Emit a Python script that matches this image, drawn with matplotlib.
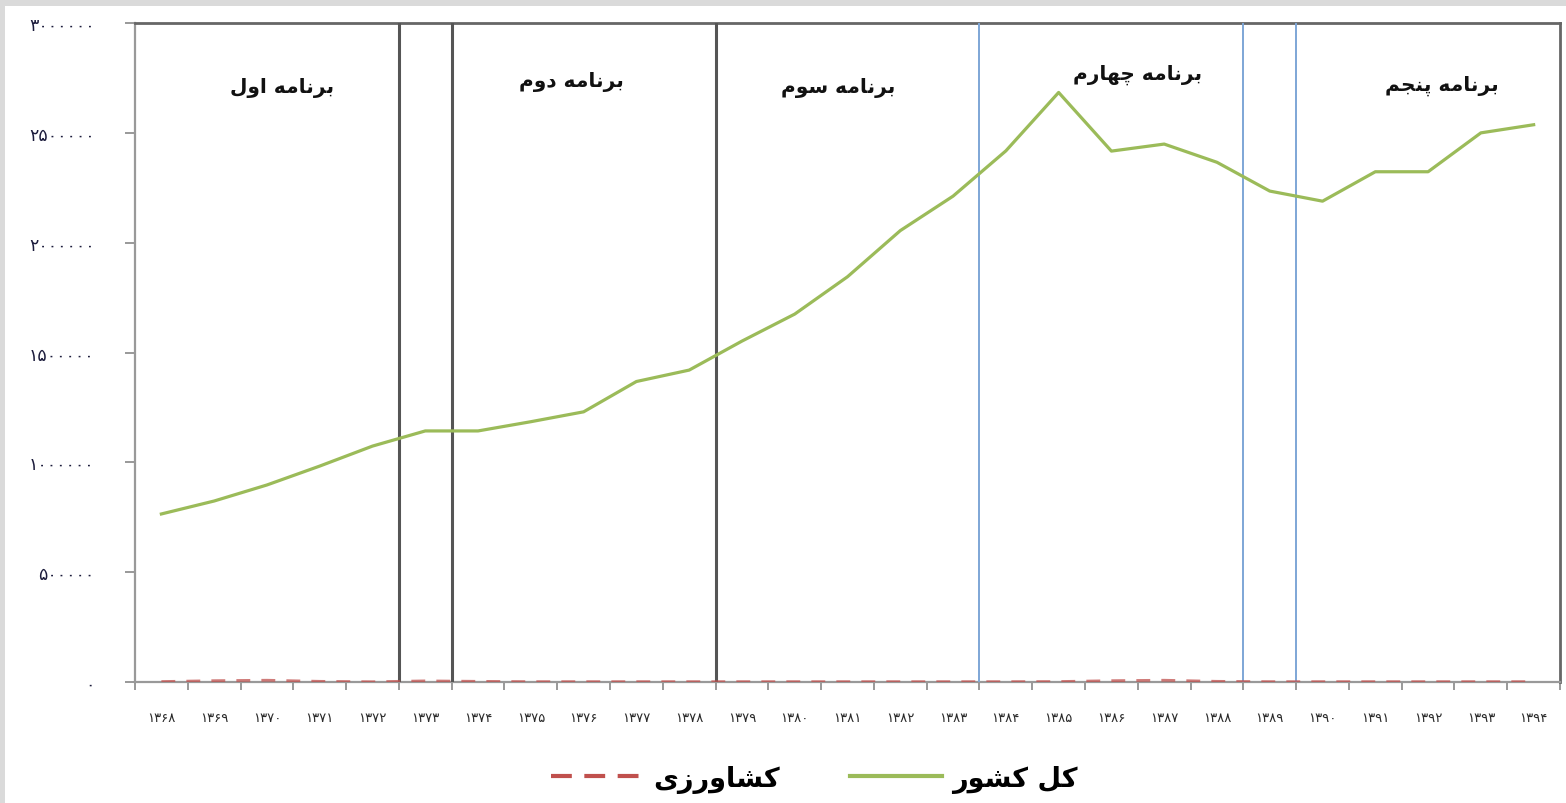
import matplotlib
matplotlib.use('Agg')
import matplotlib.pyplot as plt
from matplotlib.patches import Rectangle
from matplotlib.lines import Line2D
import numpy as np

# Years (Persian digits) on the category axis
years = ['۱۳۶۸', '۱۳۶۹', '۱۳۷۰', '۱۳۷۱', '۱۳۷۲', '۱۳۷۳', '۱۳۷۴', '۱۳۷۵', '۱۳۷۶',
         '۱۳۷۷', '۱۳۷۸', '۱۳۷۹', '۱۳۸۰', '۱۳۸۱', '۱۳۸۲', '۱۳۸۳', '۱۳۸۴', '۱۳۸۵',
         '۱۳۸۶', '۱۳۸۷', '۱۳۸۸', '۱۳۸۹', '۱۳۹۰', '۱۳۹۱', '۱۳۹۲', '۱۳۹۳', '۱۳۹۴']

# Whole country
total = [765000, 824000, 897000, 983000, 1074000, 1143000, 1143000, 1185000, 1230000,
         1368000, 1420000, 1552000, 1675000, 1845000, 2055000, 2212000, 2418000, 2684000,
         2417000, 2449000, 2366000, 2235000, 2189000, 2323000, 2323000, 2500000, 2537000]

# Agriculture (almost zero)
agri = [2000, 6000, 8000, 3000, 1000, 5000, 3000, 1500, 1500,
        1500, 1500, 1500, 1500, 1500, 1500, 1500, 1500, 2000,
        6000, 8000, 3000, 1500, 1500, 1500, 1500, 1500, 1500]

y_ticks = [0, 500000, 1000000, 1500000, 2000000, 2500000, 3000000]

plan_names = ['برنامه اول', 'برنامه دوم', 'برنامه سوم', 'برنامه چهارم', 'برنامه پنجم']
legend_names = ['کشاورزی', 'کل کشور']

# Minimal Arabic/Persian shaping: (isolated, final, initial, medial)
FORMS = {
    'ا': ('\uFE8D', '\uFE8E', None, None),
    'ب': ('\uFE8F', '\uFE90', '\uFE91', '\uFE92'),
    'پ': ('\uFB56', '\uFB57', '\uFB58', '\uFB59'),
    'ج': ('\uFE9D', '\uFE9E', '\uFE9F', '\uFEA0'),
    'چ': ('\uFB7A', '\uFB7B', '\uFB7C', '\uFB7D'),
    'د': ('\uFEA9', '\uFEAA', None, None),
    'ر': ('\uFEAD', '\uFEAE', None, None),
    'ز': ('\uFEAF', '\uFEB0', None, None),
    'س': ('\uFEB1', '\uFEB2', '\uFEB3', '\uFEB4'),
    'ش': ('\uFEB5', '\uFEB6', '\uFEB7', '\uFEB8'),
    'ل': ('\uFEDD', '\uFEDE', '\uFEDF', '\uFEE0'),
    'م': ('\uFEE1', '\uFEE2', '\uFEE3', '\uFEE4'),
    'ن': ('\uFEE5', '\uFEE6', '\uFEE7', '\uFEE8'),
    'ه': ('\uFEE9', '\uFEEA', '\uFEEB', '\uFEEC'),
    'و': ('\uFEED', '\uFEEE', None, None),
    'ک': ('\uFB8E', '\uFB8F', '\uFB90', '\uFB91'),
    'ی': ('\uFBFC', '\uFBFD', '\uFBFE', '\uFBFF'),
}


def shape(text):
    out = []
    for i, ch in enumerate(text):
        if ch not in FORMS:
            out.append(ch)
            continue
        prev = text[i - 1] if i > 0 else ''
        nxt = text[i + 1] if i + 1 < len(text) else ''
        iso, fin, ini, med = FORMS[ch]
        join_prev = prev in FORMS and FORMS[prev][2] is not None
        join_next = nxt in FORMS and ini is not None
        if join_prev and join_next:
            out.append(med)
        elif join_prev:
            out.append(fin)
        elif join_next:
            out.append(ini)
        else:
            out.append(iso)
    # visual order for left-to-right drawing
    return ''.join(out)[::-1]


def fa_digits(n):
    return str(n).translate(str.maketrans('0123456789', '۰۱۲۳۴۵۶۷۸۹'))


plt.rcParams['font.family'] = ['DejaVu Sans']

fig = plt.figure(figsize=(15.66, 8.04), dpi=100)
fig.patch.set_facecolor('#dadada')
fig.add_artist(Rectangle((5 / 1566, 0), 1, 1 - 7 / 804, transform=fig.transFigure,
                         facecolor='white', edgecolor='none', zorder=-10))

ax = fig.add_axes([0.0862, 0.1505, 0.9100, 0.8196])
x = np.arange(len(years))

ax.plot(x, total, color='#9bbb59', lw=2.3, zorder=4)
ax.plot(x, agri, color='#c0504d', lw=2.0, dashes=(5, 4), zorder=5, alpha=0.75)

# plan boundaries
for b in [4.5, 5.5, 10.5]:
    ax.axvline(b, color='#555555', lw=2.2, zorder=3)
for b in [15.5, 20.5, 21.5]:
    ax.axvline(b, color='#7ea6d6', lw=1.4, zorder=3)

ax.set_xlim(-0.5, len(years) - 0.5)
ax.set_ylim(0, 3000000)

ax.set_xticks(np.arange(-0.5, len(years), 1.0))
ax.set_xticklabels([])
ax.set_xticks(x, minor=True)
ax.set_xticklabels(years, minor=True, fontsize=9.5, color='#2a2a2a')
ax.tick_params(axis='x', which='major', length=6, color='#888888', width=1.2)
ax.tick_params(axis='x', which='minor', length=0, pad=21)

ax.set_yticks(y_ticks)
ax.set_yticklabels([fa_digits(v) for v in y_ticks], fontsize=12.5, color='#1c1c3c')
ax.tick_params(axis='y', length=7, color='#888888', width=1.2, pad=22)

for s in ['left', 'bottom']:
    ax.spines[s].set_color('#999999')
    ax.spines[s].set_linewidth(1.6)
for s in ['top', 'right']:
    ax.spines[s].set_color('#666666')
    ax.spines[s].set_linewidth(2.0)

# plan labels
plan_pos = [(2.28, 2708000), (7.76, 2735000), (12.83, 2708000), (18.5, 2767000), (24.26, 2717000)]
for name, (px, py) in zip(plan_names, plan_pos):
    ax.text(px, py, shape(name), ha='center', va='center', fontsize=14.5,
            fontweight='bold', color='#111111')

handles = [Line2D([], [], color='#c0504d', lw=3, dashes=(5, 3)),
           Line2D([], [], color='#9bbb59', lw=3)]
fig.legend(handles, [shape(n) for n in legend_names], loc='center',
           bbox_to_anchor=(0.52, 0.03), ncol=2, frameon=False,
           prop={'size': 19.5, 'weight': 'bold'}, handlelength=3.4,
           handletextpad=0.35, columnspacing=2.6)

plt.savefig('out.png', dpi=100)
